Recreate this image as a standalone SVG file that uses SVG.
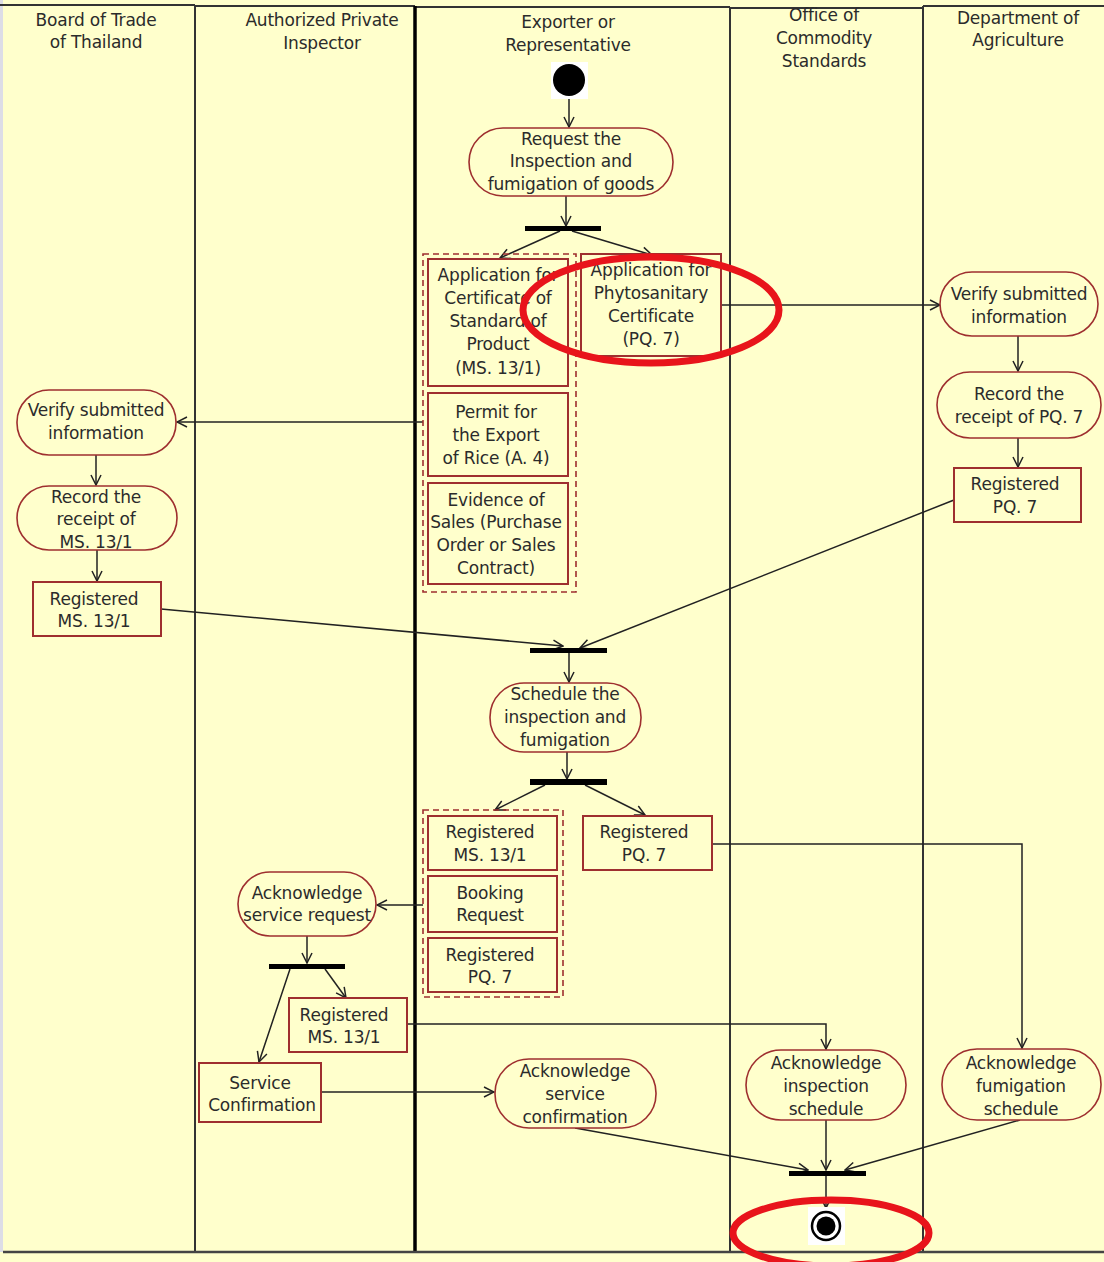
<svg xmlns="http://www.w3.org/2000/svg" width="1104" height="1262" viewBox="0 0 1104 1262">
<style>
text{font-family:"DejaVu Sans","Liberation Sans",sans-serif;font-size:17px;fill:#2b2b2b;text-anchor:middle;dominant-baseline:central;letter-spacing:-0.2px}
.act{fill:#FFFFCC;stroke:#9E2F2F;stroke-width:1.6}
.obj{fill:#FFFFCC;stroke:#9E2F2F;stroke-width:2}
.grp{fill:none;stroke:#9E2F2F;stroke-width:1.6;stroke-dasharray:6 4}
.bar{fill:#000}
.lane{stroke:#333;stroke-width:2;fill:none}
.conn{stroke:#222;stroke-width:1.5;fill:none;marker-end:url(#arr)}
.hl{fill:none;stroke:#E8141B;stroke-width:7}
</style>
<defs>
<marker id="arr" viewBox="0 0 12 12" refX="11" refY="6" markerWidth="12" markerHeight="12" markerUnits="userSpaceOnUse" orient="auto">
<path d="M1,1 L11,6 L1,11" fill="none" stroke="#222" stroke-width="1.5"/>
</marker>
</defs>
<rect x="0" y="0" width="1104" height="1262" fill="#FFFFCC"/>
<rect x="0" y="0" width="3" height="1252" fill="#DDDDE6"/>
<g id="lanes">
<path class="lane" d="M0,5 H195 M195,6 H415 M415,7 H730 M730,8 H923 M923,6 H1104"/>
<path class="lane" d="M195,5 V1252 M730,7 V1252 M923,6 V1252"/>
<path d="M415,6 V1252" stroke="#000" stroke-width="3.5"/>
<path d="M3,1252 H1104" stroke="#444" stroke-width="2.5"/>
<text x="96" y="20">Board of Trade</text><text x="96" y="42">of Thailand</text>
<text x="322" y="20">Authorized Private</text><text x="322" y="43">Inspector</text>
<text x="568" y="22">Exporter or</text><text x="568" y="45">Representative</text>
<text x="824" y="15">Office of</text><text x="824" y="38">Commodity</text><text x="824" y="61">Standards</text>
<text x="1018" y="18">Department of</text><text x="1018" y="40">Agriculture</text>
</g>
<g id="connectors">
<path class="conn" d="M569,97 V127"/>
<path class="conn" d="M566,196 V226"/>
<path class="conn" d="M560,231 L500,258"/>
<path class="conn" d="M572,231 L652,255"/>
<path class="conn" d="M721,305 H940"/>
<path class="conn" d="M1018,336 V371"/>
<path class="conn" d="M1018,438 V467"/>
<path class="conn" d="M954,500 L580,648"/>
<path class="conn" d="M423,422 H177"/>
<path class="conn" d="M96,455 V485"/>
<path class="conn" d="M97,550 V581"/>
<path class="conn" d="M161,609 L563,646"/>
<path class="conn" d="M569,653 V682"/>
<path class="conn" d="M567,752 V779"/>
<path class="conn" d="M545,785 L495,810"/>
<path class="conn" d="M585,785 L645,815"/>
<path class="conn" d="M712,844 H1022 V1048"/>
<path class="conn" d="M423,905 H377"/>
<path class="conn" d="M307,936 V963"/>
<path class="conn" d="M290,969 L259,1062"/>
<path class="conn" d="M325,969 L346,998"/>
<path class="conn" d="M407,1024 H826 V1049"/>
<path class="conn" d="M321,1092 H494"/>
<path class="conn" d="M575,1128 L808,1170"/>
<path class="conn" d="M826,1120 V1170"/>
<path class="conn" d="M1020,1120 L845,1170"/>
<path class="conn" d="M826,1176 V1208"/>
</g>
<g id="start"><rect x="551" y="62" width="37" height="37" fill="#fff"/><circle cx="569" cy="80" r="16" fill="#000"/></g>
<g id="request"><rect class="act" x="469" y="128" width="204" height="68" rx="34"/><text x="571" y="139">Request the</text><text x="571" y="161">Inspection and</text><text x="571" y="184">fumigation of goods</text></g>
<g id="fork1"><rect class="bar" x="525" y="226" width="76" height="5"/></g>
<g id="docs1"><rect class="grp" x="423" y="254" width="153" height="338"/></g>
<g id="ms131app"><rect class="obj" x="428" y="259" width="140" height="127"/><text x="498" y="275">Application for</text><text x="498" y="298">Certificate of</text><text x="498" y="321">Standard of</text><text x="498" y="344">Product</text><text x="498" y="368">(MS. 13/1)</text></g>
<g id="permit"><rect class="obj" x="428" y="393" width="140" height="83"/><text x="496" y="412">Permit for</text><text x="496" y="435">the Export</text><text x="496" y="458">of Rice (A. 4)</text></g>
<g id="evidence"><rect class="obj" x="428" y="483" width="140" height="101"/><text x="496" y="500">Evidence of</text><text x="496" y="522">Sales (Purchase</text><text x="496" y="545">Order or Sales</text><text x="496" y="568">Contract)</text></g>
<g id="pq7app"><rect class="obj" x="581" y="254" width="140" height="102"/><text x="651" y="270">Application for</text><text x="651" y="293">Phytosanitary</text><text x="651" y="316">Certificate</text><text x="651" y="339">(PQ. 7)</text></g>
<g id="doa-verify"><rect class="act" x="940" y="272" width="158" height="64" rx="32"/><text x="1019" y="294">Verify submitted</text><text x="1019" y="317">information</text></g>
<g id="doa-record"><rect class="act" x="937" y="372" width="164" height="66" rx="33"/><text x="1019" y="394">Record the</text><text x="1019" y="417">receipt of PQ. 7</text></g>
<g id="doa-reg"><rect class="obj" x="954" y="468" width="127" height="54"/><text x="1015" y="484">Registered</text><text x="1015" y="507">PQ. 7</text></g>
<g id="bot-verify"><rect class="act" x="17" y="390" width="159" height="65" rx="32"/><text x="96" y="410">Verify submitted</text><text x="96" y="433">information</text></g>
<g id="bot-record"><rect class="act" x="17" y="486" width="160" height="64" rx="32"/><text x="96" y="497">Record the</text><text x="96" y="519">receipt of</text><text x="96" y="542">MS. 13/1</text></g>
<g id="bot-reg"><rect class="obj" x="33" y="582" width="128" height="54"/><text x="94" y="599">Registered</text><text x="94" y="621">MS. 13/1</text></g>
<g id="join1"><rect class="bar" x="530" y="648" width="77" height="5"/></g>
<g id="schedule"><rect class="act" x="490" y="683" width="151" height="69" rx="34"/><text x="565" y="694">Schedule the</text><text x="565" y="717">inspection and</text><text x="565" y="740">fumigation</text></g>
<g id="fork2"><rect class="bar" x="530" y="779" width="77" height="6"/></g>
<g id="docs2"><rect class="grp" x="423" y="810" width="140" height="187"/></g>
<g id="exp-ms131"><rect class="obj" x="428" y="816" width="129" height="54"/><text x="490" y="832">Registered</text><text x="490" y="855">MS. 13/1</text></g>
<g id="booking"><rect class="obj" x="428" y="876" width="129" height="56"/><text x="490" y="893">Booking</text><text x="490" y="915">Request</text></g>
<g id="exp-pq7"><rect class="obj" x="428" y="938" width="129" height="54"/><text x="490" y="955">Registered</text><text x="490" y="977">PQ. 7</text></g>
<g id="exp-pq7b"><rect class="obj" x="583" y="816" width="129" height="54"/><text x="644" y="832">Registered</text><text x="644" y="855">PQ. 7</text></g>
<g id="ack-request"><rect class="act" x="238" y="872" width="138" height="64" rx="32"/><text x="307" y="893">Acknowledge</text><text x="307" y="915">service request</text></g>
<g id="fork3"><rect class="bar" x="269" y="964" width="76" height="5"/></g>
<g id="api-ms131"><rect class="obj" x="289" y="998" width="118" height="54"/><text x="344" y="1015">Registered</text><text x="344" y="1037">MS. 13/1</text></g>
<g id="service-conf"><rect class="obj" x="199" y="1063" width="122" height="59"/><text x="260" y="1083">Service</text><text x="262" y="1105">Confirmation</text></g>
<g id="ack-conf"><rect class="act" x="495" y="1059" width="161" height="69" rx="34"/><text x="575" y="1071">Acknowledge</text><text x="575" y="1094">service</text><text x="575" y="1117">confirmation</text></g>
<g id="ack-insp"><rect class="act" x="746" y="1050" width="160" height="70" rx="35"/><text x="826" y="1063">Acknowledge</text><text x="826" y="1086">inspection</text><text x="826" y="1109">schedule</text></g>
<g id="ack-fum"><rect class="act" x="942" y="1049" width="159" height="71" rx="35"/><text x="1021" y="1063">Acknowledge</text><text x="1021" y="1086">fumigation</text><text x="1021" y="1109">schedule</text></g>
<g id="join2"><rect class="bar" x="789" y="1171" width="77" height="5"/></g>
<g id="end"><rect x="808" y="1207" width="37" height="38" fill="#fff"/><circle cx="826" cy="1226" r="14" fill="#fff" stroke="#000" stroke-width="2.5"/><circle cx="826" cy="1226" r="9.5" fill="#000"/></g>
<g id="highlights"><ellipse class="hl" cx="651" cy="310" rx="128" ry="53"/><ellipse class="hl" cx="831" cy="1233" rx="98" ry="33"/></g>
</svg>
